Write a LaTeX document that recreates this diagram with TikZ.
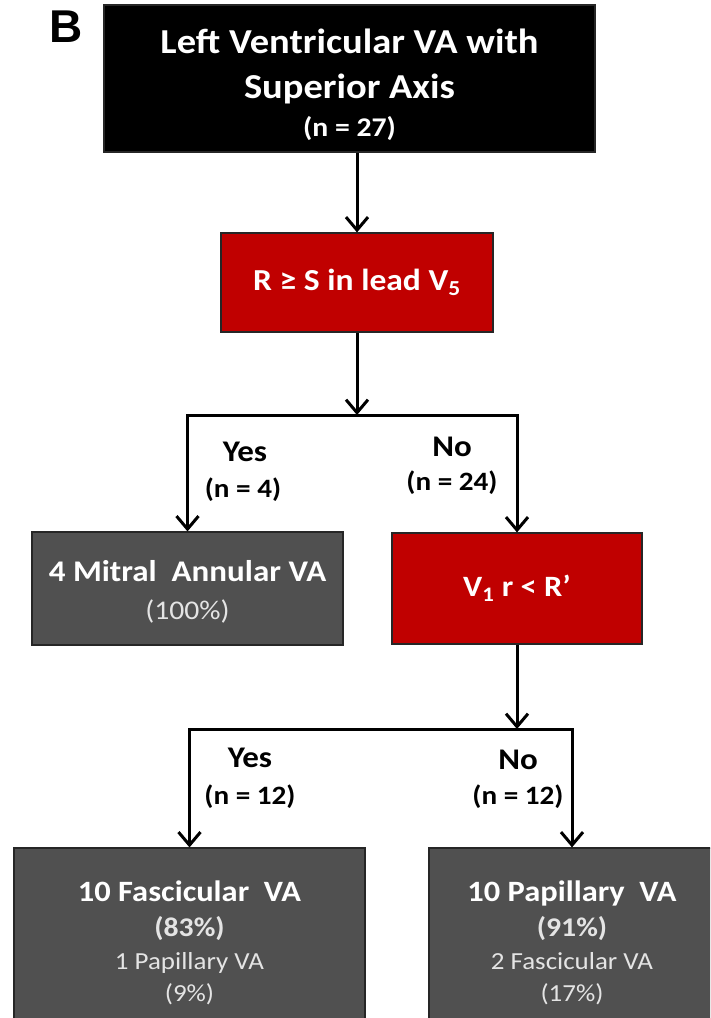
\documentclass[tikz,border=0pt]{standalone}
\usepackage{fontspec}
\setmainfont{Carlito}[FakeStretch=1.1]
\newfontfamily\panelfont{Liberation Sans}
\usetikzlibrary{arrows.meta}
\definecolor{box-red}{HTML}{C00000}
\definecolor{box-grey}{HTML}{505050}
\definecolor{soft-white}{HTML}{E4E4E4}

\newcommand{\fs}[2]{\fontsize{#1}{#2}\selectfont}

\begin{document}
\begin{tikzpicture}[x=1pt, y=-1pt,
      every node/.style={inner sep=0pt, align=center},
      box/.style={draw=black!85, line width=1.2pt, text=white},
      lbl/.style={font=\bfseries\fs{30}{30}},
      cnt/.style={font=\bfseries\fs{26.5}{30}},
      arr/.style={line width=3pt,
                  -{Straight Barb[length=13pt, width=22pt, line width=3pt]}}]
    \useasboundingbox (0,0) rectangle (710,1018);
    \clip (0,0) rectangle (710,1018);
    \node[font=\panelfont\bfseries\fs{46}{46}] (PANEL) at (66,27) {B};
    % boxes
    \node[box, fill=black, minimum width=491pt, minimum height=147pt,
          font=\bfseries\fs{35}{45}] (TOP) at (349.5,78.5)
          {\rule{0pt}{38pt}Left Ventricular VA with\\Superior Axis\\[-7pt]
           {\fs{27}{45}(n = 27)}};
    \node[box, fill=box-red, minimum width=272pt, minimum height=99pt,
          font=\bfseries\fs{30.5}{36}] (R1) at (357,282.5)
          {R ≥ S in lead V\textsubscript{5}};
    \node[box, fill=box-grey, minimum width=311pt, minimum height=113pt,
          font=\bfseries\fs{30}{38}] (MA) at (187.5,588.5)
          {\rule{0pt}{28pt}4 Mitral\ \ Annular VA\\
           {\mdseries\color{soft-white}\fs{27}{38}(100\%)}};
    \node[box, fill=box-red, minimum width=250pt, minimum height=111pt,
          font=\bfseries\fs{29.5}{36}] (R2) at (517,588.5)
          {V\textsubscript{1} r < R’};
    \node[box, fill=box-grey, minimum width=351pt, minimum height=190pt,
          font=\bfseries\fs{29.5}{33}] (FV) at (189.5,943)
          {10 Fascicular\ \ VA\\[2pt]
           {\color{soft-white}\fs{27}{33}(83\%)}\\
           {\mdseries\color{soft-white}\fs{24.5}{33}1 Papillary VA}\\[-1pt]
           {\mdseries\color{soft-white}\fs{24.5}{33}(9\%)}};
    \node[box, fill=box-grey, minimum width=286pt, minimum height=190pt,
          font=\bfseries\fs{29.5}{33}] (PV) at (572,943)
          {10 Papillary\ \ VA\\[2pt]
           {\color{soft-white}\fs{27}{33}(91\%)}\\
           {\mdseries\color{soft-white}\fs{24.5}{33}2 Fascicular VA}\\[-1pt]
           {\mdseries\color{soft-white}\fs{24.5}{33}(17\%)}};
    % branch labels
    \node[lbl] (Y1) at (245,452) {Yes};
    \node[cnt] (NY1) at (243,490) {(n = 4)};
    \node[lbl] (N1) at (452,447) {No};
    \node[cnt] (NN1) at (452,483) {(n = 24)};
    \node[lbl] (Y2) at (250,758) {Yes};
    \node[cnt] (NY2) at (250,797) {(n = 12)};
    \node[lbl] (N2) at (518,760) {No};
    \node[cnt] (NN2) at (518,797) {(n = 12)};
    % connectors
    \coordinate (S1) at (357,415);
    \coordinate (S2) at (517,729);
    \draw[arr] (TOP.south -| R1.north) -- (R1.north);
    \draw[arr] (R1.south) -- (S1);
    \draw[arr] (S1) -| (MA.north);
    \draw[arr] (S1) -| (R2.north);
    \draw[arr] (R2.south) -- (S2);
    \draw[arr] (S2) -| (FV.north);
    \draw[arr] (S2) -| (PV.north);
\end{tikzpicture}
\end{document}
